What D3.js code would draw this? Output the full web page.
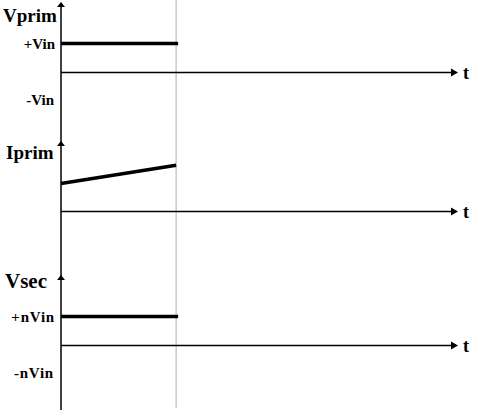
<!DOCTYPE html>
<html><head><meta charset="utf-8">
<script src="https://cdn.jsdelivr.net/npm/d3@7"></script>
<style>body{margin:0;background:#fff}svg{display:block}</style>
</head><body>
<svg id="c" width="480" height="418"></svg>
<script>
// Data
const panelNames = ["Vprim", "Iprim", "Vsec"];
const posLabels = ["+Vin", "", "+nVin"];
const negLabels = ["-Vin", "", "-nVin"];
const tOn = 0.29;
const vprim = [[0, 1], [0.295, 1]];
const iprim = [[0, 1.0], [0.29, 1.65]];
const vsec = [[0, 1], [0.295, 1]];
const series = [vprim, iprim, vsec];

const svg = d3.select("#c");
const font = "'Liberation Serif','Times New Roman',serif";
const x = d3.scaleLinear().domain([0, 1]).range([61, 458]);

const zeros = [72.5, 211.5, 345.5];
const ys = zeros.map((z, i) => d3.scaleLinear().domain([0, 1]).range([z, z - (i === 1 ? 28 : 29)]));

svg.append("line").attr("x1", x(tOn)).attr("x2", x(tOn)).attr("y1", 0).attr("y2", 408)
  .attr("stroke", "#c0c0c0").attr("stroke-width", 1.3);

svg.append("line").attr("x1", 61).attr("x2", 61).attr("y1", 3).attr("y2", 410)
  .attr("stroke", "#000").attr("stroke-width", 1.5);

const arrowTops = [2, 141, 275];
arrowTops.forEach(t => {
  svg.append("path").attr("d", `M61,${t} L57,${t + 5} L65,${t + 5} Z`).attr("fill", "#000");
});

const nameSpecs = [
  {x: 3, y: 22, size: 19},
  {x: 6, y: 159, size: 19},
  {x: 5, y: 288, size: 21}
];

series.forEach((s, i) => {
  const y = ys[i];
  svg.append("line").attr("x1", 61).attr("x2", x(1) - 5).attr("y1", y(0)).attr("y2", y(0))
    .attr("stroke", "#000").attr("stroke-width", 1.3);
  svg.append("path").attr("d", `M${x(1)},${y(0)} L${x(1) - 7},${y(0) - 4} L${x(1) - 7},${y(0) + 4} Z`).attr("fill", "#000");
  svg.append("text").attr("x", 463).attr("y", y(0) + 6.5).text("t")
    .attr("font-family", font).attr("font-weight", "bold").attr("font-size", 18);

  svg.append("path").datum(s)
    .attr("d", d3.line().x(d => x(d[0])).y(d => y(d[1])))
    .attr("stroke", "#000").attr("stroke-width", 3.5).attr("fill", "none");

  const ns = nameSpecs[i];
  svg.append("text").attr("x", ns.x).attr("y", ns.y).text(panelNames[i])
    .attr("font-family", font).attr("font-weight", "bold").attr("font-size", ns.size);
  if (posLabels[i]) {
    svg.append("text").attr("x", 55).attr("y", y(1) + 5).attr("text-anchor", "end")
      .text(posLabels[i]).attr("font-family", font).attr("font-weight", "bold").attr("font-size", 15)
      .attr("letter-spacing", i === 2 ? 0.8 : 0);
    svg.append("text").attr("x", 54).attr("y", y(-1) + 3).attr("text-anchor", "end")
      .text(negLabels[i]).attr("font-family", font).attr("font-weight", "bold").attr("font-size", 15)
      .attr("letter-spacing", i === 2 ? 0.8 : 0);
  }
});
</script>
</body></html>
